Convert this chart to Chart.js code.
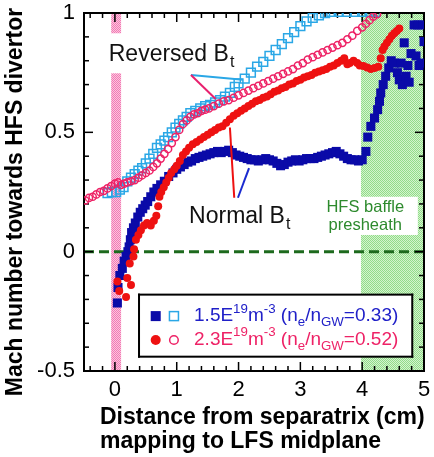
<!DOCTYPE html>
<html>
<head>
<meta charset="utf-8">
<script src="https://cdn.jsdelivr.net/npm/chart.js@4.4.0/dist/chart.umd.min.js"></script>
<style>
  html, body { margin: 0; padding: 0; background: #fff; }
</style>
</head>
<body>
<canvas id="c" width="434" height="457"></canvas>
<script>
const FONT = "'Liberation Sans', Arial, Helvetica, sans-serif";

// axis ticks
const xTicks = [0, 1, 2, 3, 4, 5];
const yTicks = [-0.5, 0, 0.5, 1];

// normal Bt, 1.5E19 (filled blue squares)
const blueNormX = [0.04, 0.05, 0.08, 0.12, 0.15, 0.18, 0.21, 0.23, 0.25, 0.27, 0.30, 0.33, 0.37, 0.41, 0.45, 0.49, 0.53, 0.58, 0.63, 0.68,
  0.74, 0.80, 0.87, 0.94, 1.00, 1.06, 1.12, 1.18, 1.24, 1.30, 1.36, 1.42, 1.48, 1.54, 1.60, 1.66, 1.72, 1.78, 1.84, 1.90,
  1.96, 2.02, 2.08, 2.14, 2.20, 2.26, 2.32, 2.38, 2.44, 2.50, 2.56, 2.62, 2.68, 2.74, 2.80, 2.86, 2.92, 2.98, 3.04, 3.10,
  3.16, 3.22, 3.28, 3.34, 3.40, 3.46, 3.52, 3.58, 3.64, 3.70, 3.76, 3.82, 3.88, 3.94, 4.00,
  4.06, 4.09, 4.14, 4.20, 4.25, 4.28, 4.30, 4.34, 4.38, 4.43, 4.47, 4.52, 4.57, 4.60, 4.65, 4.71, 4.76, 4.63, 4.74, 4.79,
  4.87, 4.92, 4.95, 4.68, 5.00, 4.84, 4.90, 4.98];
const blueNormY = [-0.215, -0.15, -0.10, -0.07, -0.04, -0.02, 0.00, 0.02, 0.05, 0.08, 0.10, 0.12, 0.145, 0.165, 0.18, 0.195, 0.21, 0.23, 0.25, 0.265,
  0.28, 0.295, 0.315, 0.33, 0.345, 0.355, 0.365, 0.375, 0.38, 0.39, 0.395, 0.40, 0.405, 0.41, 0.415, 0.42, 0.415, 0.42, 0.425, 0.415,
  0.405, 0.40, 0.395, 0.39, 0.385, 0.385, 0.38, 0.385, 0.39, 0.385, 0.38, 0.37, 0.36, 0.365, 0.375, 0.38, 0.385, 0.38, 0.385, 0.39,
  0.39, 0.39, 0.395, 0.40, 0.405, 0.41, 0.415, 0.42, 0.41, 0.40, 0.39, 0.385, 0.385, 0.38, 0.385,
  0.42, 0.48, 0.525, 0.56, 0.595, 0.63, 0.665, 0.70, 0.735, 0.77, 0.80, 0.79, 0.75, 0.72, 0.70, 0.735, 0.71, 0.79, 0.78, 0.83,
  0.82, 0.78, 0.79, 0.875, 0.88, 0.95, 0.95, 0.95];

// normal Bt, 2.3E19 (filled red circles)
const redNormX = [0.04, 0.07, 0.18, 0.20, 0.26, 0.24, 0.30, 0.31, 0.34, 0.38, 0.42, 0.47, 0.52, 0.58, 0.63, 0.67, 0.70, 0.72, 0.75, 0.79,
  0.83, 0.87, 0.91, 0.96, 1.00, 1.05, 1.10, 1.15, 1.20, 1.26, 1.32, 1.38, 1.44, 1.50, 1.56, 1.62, 1.68, 1.74, 1.80, 1.86,
  1.92, 1.98, 2.04, 2.10, 2.16, 2.22, 2.28, 2.34, 2.40, 2.46, 2.52, 2.58, 2.64, 2.70, 2.76, 2.82, 2.88, 2.94, 3.00, 3.06,
  3.12, 3.18, 3.24, 3.30, 3.36, 3.42, 3.48, 3.54, 3.60, 3.66, 3.71, 3.76, 3.80, 3.86, 3.92, 3.96, 4.02, 4.08, 4.14, 4.20,
  4.26, 4.30, 4.33, 4.36, 4.40, 4.44, 4.48, 4.52, 4.56, 4.60];
const redNormY = [-0.125, -0.165, -0.19, -0.11, -0.14, -0.05, -0.02, 0.01, 0.05, 0.07, 0.09, 0.11, 0.12, 0.11, 0.13, 0.15, 0.19, 0.23, 0.25, 0.27,
  0.29, 0.31, 0.33, 0.345, 0.36, 0.38, 0.405, 0.42, 0.435, 0.45, 0.46, 0.47, 0.48, 0.49, 0.50, 0.51, 0.52, 0.525, 0.54, 0.555,
  0.57, 0.58, 0.59, 0.60, 0.61, 0.62, 0.63, 0.635, 0.645, 0.65, 0.66, 0.67, 0.675, 0.685, 0.69, 0.70, 0.705, 0.715, 0.72, 0.73,
  0.735, 0.74, 0.75, 0.755, 0.76, 0.765, 0.775, 0.78, 0.79, 0.80, 0.81, 0.785, 0.79, 0.80, 0.79, 0.78, 0.778, 0.772, 0.765, 0.77,
  0.775, 0.81, 0.845, 0.86, 0.875, 0.89, 0.905, 0.915, 0.925, 0.935];

// reversed Bt, 2.3E19 (open red circles)
const redRevX = [-0.48, -0.42, -0.36, -0.30, -0.24, -0.18, -0.12, -0.06, 0.00, 0.05, 0.10, 0.15, 0.20, 0.26, 0.32, 0.38, 0.44, 0.50, 0.56, 0.62,
  0.68, 0.74, 0.80, 0.86, 0.92, 0.98, 1.04, 1.10, 1.16, 1.22, 1.28, 1.34, 1.40, 1.46, 1.52, 1.60, 1.68, 1.76, 1.84, 1.92,
  2.00, 2.08, 2.16, 2.24, 2.32, 2.40, 2.48, 2.56, 2.64, 2.72, 2.80, 2.88, 2.96, 3.04, 3.12, 3.20, 3.28, 3.36, 3.44, 3.52,
  3.60, 3.68, 3.76, 3.84, 3.92, 4.00, 4.06, 4.12, 4.18, 4.24];
const redRevY = [0.215, 0.225, 0.23, 0.24, 0.25, 0.255, 0.265, 0.275, 0.285, 0.29, 0.28, 0.285, 0.29, 0.295, 0.30, 0.31, 0.32, 0.33, 0.34, 0.355,
  0.37, 0.39, 0.41, 0.43, 0.455, 0.48, 0.51, 0.535, 0.55, 0.565, 0.575, 0.58, 0.59, 0.595, 0.60, 0.61, 0.62, 0.63, 0.635, 0.645,
  0.655, 0.665, 0.675, 0.685, 0.695, 0.705, 0.715, 0.725, 0.735, 0.745, 0.755, 0.765, 0.78, 0.79, 0.805, 0.815, 0.825, 0.835, 0.845, 0.855,
  0.865, 0.875, 0.89, 0.905, 0.925, 0.94, 0.955, 0.97, 0.985, 0.995];

// reversed Bt, 1.5E19 (open cyan squares)
const cyanRevX = [-0.12, -0.05, 0.02, 0.08, 0.14, 0.20, 0.26, 0.32, 0.38, 0.44, 0.50, 0.56, 0.62, 0.68, 0.74, 0.80, 0.86, 0.92, 0.98, 1.04,
  1.10, 1.16, 1.22, 1.30, 1.38, 1.46, 1.54, 1.62, 1.70, 1.78, 1.86, 1.94, 2.00, 2.10, 2.20, 2.30, 2.40, 2.50, 2.60, 2.70,
  2.80, 2.90, 3.00, 3.10, 3.20, 3.30, 3.40, 3.50, 3.62, 3.75, 3.88, 4.00, 4.12, 4.22];
const cyanRevY = [0.245, 0.25, 0.25, 0.26, 0.27, 0.295, 0.31, 0.325, 0.34, 0.35, 0.37, 0.39, 0.41, 0.435, 0.45, 0.465, 0.48, 0.50, 0.52, 0.535,
  0.55, 0.565, 0.58, 0.59, 0.60, 0.61, 0.615, 0.625, 0.635, 0.65, 0.665, 0.69, 0.705, 0.725, 0.75, 0.775, 0.795, 0.82, 0.845, 0.87,
  0.895, 0.92, 0.945, 0.965, 0.98, 0.99, 1.00, 1.005, 1.005, 1.005, 1.005, 1.005, 1.005, 1.005];

// shaded regions (data units)
const pinkBand = [-0.06, 0.10];
const greenBand = [3.98, 5];

const pts = (xs, ys) => xs.map((v, i) => ({ x: v, y: ys[i] }));

function dotPattern(ctx, bg, dot) {
  const c = document.createElement('canvas');
  c.width = 2; c.height = 2;
  const g = c.getContext('2d');
  g.fillStyle = bg; g.fillRect(0, 0, 2, 2);
  g.fillStyle = dot; g.fillRect(0, 0, 1, 1); g.fillRect(1, 1, 1, 1);
  return ctx.createPattern(c, 'repeat');
}

function richText(ctx, parts, x, y, size, color) {
  ctx.fillStyle = color;
  ctx.textBaseline = 'middle';
  ctx.textAlign = 'left';
  for (const [t, kind] of parts) {
    let s = size, dy = 0;
    if (kind === 'sup') { s = size * 0.7; dy = -size * 0.38; }
    if (kind === 'sub') { s = size * 0.7; dy = size * 0.32; }
    ctx.font = s.toFixed(1) + 'px ' + FONT;
    ctx.fillText(t, x, y + dy);
    x += ctx.measureText(t).width;
  }
  return x;
}

function seg(ctx, x, y, a, b, color, w) {
  ctx.strokeStyle = color;
  ctx.lineWidth = w;
  ctx.beginPath();
  ctx.moveTo(x.getPixelForValue(a[0]), y.getPixelForValue(a[1]));
  ctx.lineTo(x.getPixelForValue(b[0]), y.getPixelForValue(b[1]));
  ctx.stroke();
}

// bands, HFS label, zero line, box frame with inward ticks (under the points)
const bands = {
  id: 'bands',
  beforeDatasetsDraw(chart) {
    const { ctx, chartArea: a, scales: { x, y } } = chart;
    ctx.save();
    let x0 = x.getPixelForValue(pinkBand[0]), x1 = x.getPixelForValue(pinkBand[1]);
    ctx.fillStyle = dotPattern(ctx, '#fbc6de', '#f27ab4');
    ctx.fillRect(x0, a.top, x1 - x0, a.bottom - a.top);
    x0 = x.getPixelForValue(greenBand[0]); x1 = x.getPixelForValue(greenBand[1]);
    ctx.fillStyle = dotPattern(ctx, '#d4f4ce', '#92dc8a');
    ctx.fillRect(x0, a.top, x1 - x0, a.bottom - a.top);

    const bx0 = x.getPixelForValue(3.3), bx1 = x.getPixelForValue(4.9);
    const by0 = y.getPixelForValue(0.23), by1 = y.getPixelForValue(0.07);
    ctx.fillStyle = '#fff';
    ctx.fillRect(bx0, by0, bx1 - bx0, by1 - by0);
    ctx.fillStyle = '#2d8a2d';
    ctx.font = '16.5px ' + FONT;
    ctx.textAlign = 'center';
    ctx.textBaseline = 'middle';
    ctx.fillText('HFS baffle', x.getPixelForValue(4.05), y.getPixelForValue(0.184));
    ctx.fillText('presheath', x.getPixelForValue(4.05), y.getPixelForValue(0.109));

    ctx.strokeStyle = '#1d6a1d';
    ctx.lineWidth = 3;
    ctx.setLineDash([10, 5]);
    ctx.beginPath();
    ctx.moveTo(a.left, y.getPixelForValue(0));
    ctx.lineTo(a.right, y.getPixelForValue(0));
    ctx.stroke();
    ctx.setLineDash([]);

    const L = Math.round(a.left), R = Math.round(a.right), T = Math.round(a.top), B = Math.round(a.bottom);
    ctx.fillStyle = '#000';
    ctx.fillRect(L - 1, T - 1, R - L + 2, 2);
    ctx.fillRect(L - 1, B - 1, R - L + 2, 2);
    ctx.fillRect(L - 1, T - 1, 2, B - T + 2);
    ctx.fillRect(R - 1, T - 1, 2, B - T + 2);
    for (let i = -2; i <= 24; i++) {
      const px = x.getPixelForValue(i / 5);
      const len = (i % 5 === 0) ? 9 : 5;
      ctx.fillRect(px - 0.75, B - len, 1.5, len);
      ctx.fillRect(px - 0.75, T, 1.5, len);
    }
    for (let i = -4; i <= 9; i++) {
      const py = y.getPixelForValue(i / 10);
      const len = (i % 5 === 0) ? 9 : 5;
      ctx.fillRect(L, py - 0.75, len, 1.5);
      ctx.fillRect(R - len, py - 0.75, len, 1.5);
    }
    ctx.restore();
  }
};

// labels, legend and titles (over the points)
const notes = {
  id: 'notes',
  afterDraw(chart) {
    const { ctx, scales: { x, y } } = chart;
    ctx.save();
    ctx.fillStyle = '#fff';
    ctx.fillRect(x.getPixelForValue(-0.2), y.getPixelForValue(0.915), x.getPixelForValue(1.95) - x.getPixelForValue(-0.2), 40);
    let ex = richText(ctx, [['Reversed B', 'n']], x.getPixelForValue(-0.1), y.getPixelForValue(0.825), 23, '#111');
    richText(ctx, [['t', 'n']], ex + 1, y.getPixelForValue(0.825) + 8, 16, '#111');
    seg(ctx, x, y, [1.23, 0.74], [2.07, 0.72], '#2aa7e6', 2);
    seg(ctx, x, y, [1.23, 0.74], [1.63, 0.64], '#e8206e', 2);

    ex = richText(ctx, [['Normal B', 'n']], x.getPixelForValue(1.2), y.getPixelForValue(0.148), 23, '#111');
    richText(ctx, [['t', 'n']], ex + 1, y.getPixelForValue(0.148) + 8, 16, '#111');
    seg(ctx, x, y, [1.86, 0.52], [1.93, 0.226], '#ee1111', 2);
    seg(ctx, x, y, [1.99, 0.226], [2.17, 0.35], '#1a2ad0', 2);

    const lx0 = x.getPixelForValue(0.39), lx1 = x.getPixelForValue(4.81);
    const ly0 = y.getPixelForValue(-0.18), ly1 = y.getPixelForValue(-0.44);
    ctx.fillStyle = '#fff';
    ctx.fillRect(lx0, ly0, lx1 - lx0, ly1 - ly0);
    ctx.fillStyle = '#000';
    ctx.fillRect(lx0 - 1, ly0 - 1, lx1 - lx0 + 2, 2);
    ctx.fillRect(lx0 - 1, ly1 - 1, lx1 - lx0 + 2, 2);
    ctx.fillRect(lx0 - 1, ly0 - 1, 2, ly1 - ly0 + 2);
    ctx.fillRect(lx1 - 1, ly0 - 1, 2, ly1 - ly0 + 2);
    const r1 = y.getPixelForValue(-0.27), r2 = y.getPixelForValue(-0.37);
    const m1 = x.getPixelForValue(0.66), m2 = x.getPixelForValue(0.955), tx = x.getPixelForValue(1.28);
    ctx.fillStyle = '#0a0aa8';
    ctx.fillRect(m1 - 5, r1 - 5, 10, 10);
    ctx.strokeStyle = '#2aa7e6';
    ctx.lineWidth = 1.5;
    ctx.strokeRect(m2 - 4.5, r1 - 4.5, 9, 9);
    ctx.fillStyle = '#ee1111';
    ctx.beginPath(); ctx.arc(m1, r2, 5, 0, Math.PI * 2); ctx.fill();
    ctx.strokeStyle = '#ee2266';
    ctx.beginPath(); ctx.arc(m2, r2, 4.3, 0, Math.PI * 2); ctx.stroke();
    richText(ctx, [['1.5E', 'n'], ['19', 'sup'], ['m', 'n'], ['-3', 'sup'], [' (', 'n'], ['n', 'n'], ['e', 'sub'], ['/n', 'n'], ['GW', 'sub'], ['=0.33)', 'n']], tx, r1, 19, '#2020c8');
    richText(ctx, [['2.3E', 'n'], ['19', 'sup'], ['m', 'n'], ['-3', 'sup'], [' (', 'n'], ['n', 'n'], ['e', 'sub'], ['/n', 'n'], ['GW', 'sub'], ['=0.52)', 'n']], tx, r2, 19, '#ee2266');

    ctx.fillStyle = '#000';
    ctx.font = 'bold 23px ' + FONT;
    ctx.textBaseline = 'middle';
    ctx.textAlign = 'left';
    ctx.fillText('Distance from separatrix (cm)', 100, 418);
    ctx.fillText('mapping to LFS midplane', 100, 442);
    ctx.translate(16, 202);
    ctx.rotate(-Math.PI / 2);
    ctx.textAlign = 'center';
    ctx.fillText('Mach number towards HFS divertor', 0, 0);
    ctx.restore();
  }
};

new Chart(document.getElementById('c'), {
  type: 'scatter',
  data: {
    datasets: [
      { label: 'Normal 2.3E19', data: pts(redNormX, redNormY), pointStyle: 'circle', pointRadius: 4, backgroundColor: '#ee1111', borderColor: '#ee1111', borderWidth: 0 },
      { label: 'Normal 1.5E19', data: pts(blueNormX, blueNormY), pointStyle: 'rect', pointRadius: 6.4, backgroundColor: '#0a0aa8', borderColor: '#0a0aa8', borderWidth: 0 },
      { label: 'Reversed 2.3E19', data: pts(redRevX, redRevY), pointStyle: 'circle', pointRadius: 3.6, backgroundColor: 'rgba(0,0,0,0)', borderColor: '#ee2266', borderWidth: 1.5 },
      { label: 'Reversed 1.5E19', data: pts(cyanRevX, cyanRevY), pointStyle: 'rect', pointRadius: 6.2, backgroundColor: 'rgba(0,0,0,0)', borderColor: '#2aa7e6', borderWidth: 1.5 }
    ]
  },
  options: {
    responsive: false,
    animation: false,
    events: [],
    layout: { padding: { top: 13, right: 10, left: 0, bottom: 0 } },
    plugins: { legend: { display: false }, tooltip: { enabled: false } },
    scales: {
      x: {
        type: 'linear', min: -0.5, max: 5,
        grid: { display: false, drawTicks: false }, border: { display: false },
        afterBuildTicks: s => { s.ticks = xTicks.map(v => ({ value: v })); },
        afterFit: s => { s.height = 86; s.paddingLeft = 0; s.paddingRight = 0; },
        ticks: { padding: 6, color: '#000', font: { family: FONT, size: 22 }, maxRotation: 0, autoSkip: false, callback: v => String(v) }
      },
      y: {
        type: 'linear', min: -0.5, max: 1,
        grid: { display: false, drawTicks: false }, border: { display: false },
        afterBuildTicks: s => { s.ticks = yTicks.map(v => ({ value: v })); },
        afterFit: s => { s.width = 84; s.paddingTop = 0; s.paddingBottom = 0; },
        ticks: { padding: 9, color: '#000', font: { family: FONT, size: 22 }, autoSkip: false, callback: v => String(v) }
      }
    }
  },
  plugins: [bands, notes]
});
</script>
</body>
</html>
